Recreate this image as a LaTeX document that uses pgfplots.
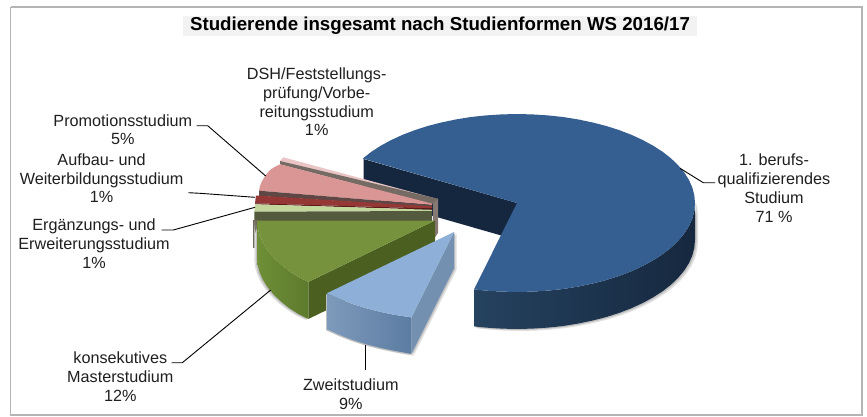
\documentclass[border=0pt]{standalone}
\usepackage{fontspec}
\setmainfont{Liberation Sans}
\usepackage{pgfplots}
\usepackage{pgfplotstable}
\pgfplotsset{compat=1.18}
\tikzset{lab/.style={font=\fontsize{16.2}{18.8}\selectfont, align=center, inner sep=0pt, text=black!88}}
\definecolor{frameC}{HTML}{B4B4B4}
\definecolor{bandC}{HTML}{F2F2F2}
\definecolor{blueTopC}{HTML}{365F91}
\definecolor{blueWallC}{HTML}{15263F}
\definecolor{blueSideL}{HTML}{25425F}
\definecolor{blueSideM}{HTML}{16283F}
\definecolor{ltTopC}{HTML}{8EB0D8}
\definecolor{ltWallC}{HTML}{7490B0}
\definecolor{ltSideL}{HTML}{7E9ABB}
\definecolor{ltSideR}{HTML}{5C7CA2}
\definecolor{grTopC}{HTML}{76923C}
\definecolor{grWallC}{HTML}{4B5F20}
\definecolor{grSideL}{HTML}{6E8E37}
\definecolor{grSideR}{HTML}{5E7B2D}
\definecolor{pinkC}{HTML}{D99694}
\definecolor{pinkWallC}{HTML}{5F4745}
\definecolor{dshC}{HTML}{E9C6C5}
\definecolor{dshWallC}{HTML}{756A64}
\definecolor{redC}{HTML}{953735}
\definecolor{redWallC}{HTML}{5E1A18}
\definecolor{lgC}{HTML}{C3D69B}
\definecolor{lgWallC}{HTML}{535A3E}
\definecolor{stripC}{HTML}{867873}
\definecolor{stripLC}{HTML}{6E6A5A}
\pgfplotstableread{
x y
362.8 158.5
371.2 151.9
380.6 145.8
391.1 140.1
402.6 134.8
414.9 130.1
428 125.9
441.7 122.4
456.1 119.4
470.9 117
486.1 115.4
501.5 114.4
517 114
532.5 114.4
547.9 115.4
563.1 117
577.9 119.4
592.3 122.4
606 125.9
619.2 130.1
631.4 134.8
642.9 140.1
653.3 145.8
662.8 151.9
671.2 158.5
678.3 165.4
684.3 172.6
689 180
692.3 187.5
694.3 195.3
695 203
694.3 210.8
692.3 218.5
689 226
684.3 233.4
678.3 240.6
671.2 247.5
662.8 254.1
653.3 260.2
642.9 265.9
631.4 271.2
619.2 275.9
606 280.1
592.3 283.6
577.9 286.6
563.1 289
547.9 290.6
532.5 291.6
517 292
501.5 291.6
486.1 290.6
474 289.4
517 203
}\blueTop
\pgfplotstableread{
x y
474 289.4
486.1 290.6
501.5 291.6
517 292
532.5 291.6
547.9 290.6
563.1 289
577.9 286.6
592.3 283.6
606 280.1
619.2 275.9
631.4 271.2
642.9 265.9
653.3 260.2
662.8 254.1
671.2 247.5
678.3 240.6
684.3 233.4
689 226
692.3 218.5
694.3 210.8
695 203
695 240
694.3 247.8
692.3 255.5
689 263
684.3 270.4
678.3 277.6
671.2 284.5
662.8 291.1
653.3 297.2
642.9 302.9
631.4 308.2
619.2 312.9
606 317.1
592.3 320.6
577.9 323.6
563.1 326
547.9 327.6
532.5 328.6
517 329
501.5 328.6
486.1 327.6
474 326.4
}\blueSide
\pgfplotstableread{
x y
454 232
411.4 317.4
393.8 314.7
379.6 311.7
366 308.2
353 304.1
340.9 299.4
327 293.2
}\ltTop
\pgfplotstableread{
x y
411.4 317.4
393.8 314.7
379.6 311.7
366 308.2
353 304.1
340.9 299.4
327 293.2
327 329.2
340.9 335.4
353 340.1
366 344.2
379.6 347.7
393.8 350.7
411.4 353.9
}\ltSide
\pgfplotstableread{
x y
454 232
454 268.3
411.4 353.9
411.4 317.4
}\ltWall
\pgfplotstableread{
x y
435 220.5
257.3 220.5
257.7 227.8
259.7 235.5
263.1 243.1
267.7 250.4
273.7 257.6
280.9 264.5
289.2 271.1
298.7 277.2
308.3 282
}\grTop
\pgfplotstableread{
x y
257.3 220.5
257.7 227.8
259.7 235.5
263.1 243.1
267.7 250.4
273.7 257.6
280.9 264.5
289.2 271.1
298.7 277.2
308.3 282
308.3 319
298.7 314.2
289.2 308.1
280.9 301.5
273.7 294.6
267.7 287.4
263.1 280.1
259.7 272.5
257.7 264.8
257.3 257.5
}\grSide
\pgfplotstableread{
x y
435 220.5
308.3 282
308.3 319
435 257.5
}\grWall
\begin{document}
\begin{tikzpicture}
\begin{axis}[
  scale only axis, width=867pt, height=416pt,
  xmin=0, xmax=867, ymin=0, ymax=416, y dir=reverse,
  hide axis, clip=false
]
% page and frame
\addplot[draw=none, fill=white] coordinates {(0,0) (867,0) (867,416) (0,416)};
\addplot[draw=frameC, line width=1.3pt] coordinates {(10.5,7) (862,7) (862,415) (10.5,415) (10.5,7)};
\addplot[draw=none, fill=bandC] coordinates {(183,16) (697,16) (697,36) (183,36)};
% 1. berufsqualifizierendes Studium
\addplot[draw=none, fill=black!12, xshift=3pt, yshift=-2pt] table {\blueSide};
\addplot[draw=none, fill=black!25, xshift=1.5pt, yshift=-1pt] table {\blueSide};
\addplot[draw=none, fill=blueWallC] coordinates {(363.5,159) (363.5,196) (517,240) (517,203)};
\addplot[draw=none, left color=blueSideL, middle color=blueSideM, right color=blueSideM] table {\blueSide};
\addplot[draw=none, fill=blueTopC] table {\blueTop};
% right-hand strip of the small wedges
\addplot[draw=none, fill=stripC] coordinates {(433,201) (438,198.5) (438,233) (433,240)};
% DSH
\addplot[draw=none, fill=dshC] coordinates {(283.3,157.3) (280,161) (433,201) (437.5,199)};
\addplot[draw=none, fill=dshWallC] coordinates {(280,161) (280,164.3) (432,204) (438,198.8)};
% Promotionsstudium
\addplot[draw=none, fill=pinkC] coordinates {(280,164.3) (274.5,167) (270,170) (265.5,175.3) (261.7,181.7) (260,186) (259,190.7) (432,205) (432,203.6)};
\addplot[draw=none, fill=pinkWallC] coordinates {(259,190.7) (259,196) (432,207) (432,205)};
% Aufbau
\addplot[draw=none, fill=redC] coordinates {(256,195.5) (255,203.3) (432,208.5) (432,206.5)};
\addplot[draw=none, fill=redWallC] coordinates {(255,203.3) (255,204.3) (432,209.8) (432,208.5)};
% Ergaenzung
\addplot[draw=none, fill=lgC] coordinates {(255,204.3) (254.3,211.7) (432,211) (432,209.8)};
\addplot[draw=none, fill=lgWallC] coordinates {(254.3,211.7) (254.3,220.8) (432,220.8) (432,211)};
\addplot[draw=none, fill=stripLC] coordinates {(252.7,220) (257.5,220) (257.5,248) (252.7,248)};
% konsekutives Masterstudium
\addplot[draw=none, fill=black!12, xshift=-3pt, yshift=-1pt] table {\grSide};
\addplot[draw=none, fill=black!25, xshift=-1.5pt, yshift=-0.5pt] table {\grSide};
\addplot[draw=none, fill=grWallC] table {\grWall};
\addplot[draw=none, left color=grSideL, right color=grSideR] table {\grSide};
\addplot[draw=none, fill=grTopC] table {\grTop};
% Zweitstudium
\addplot[draw=none, fill=black!12, xshift=2pt, yshift=-2pt] table {\ltSide};
\addplot[draw=none, fill=black!12, xshift=2.5pt, yshift=-1.5pt] table {\ltWall};
\addplot[draw=none, fill=black!25, xshift=1pt, yshift=-1pt] table {\ltWall};
\addplot[draw=none, fill=black!25, xshift=-1pt, yshift=-1pt] table {\ltSide};
\addplot[draw=none, fill=ltWallC] table {\ltWall};
\addplot[draw=none, left color=ltSideL, right color=ltSideR] table {\ltSide};
\addplot[draw=none, fill=ltTopC] table {\ltTop};
% leader lines
\addplot[black, line width=0.9pt] coordinates {(680,168.3) (703.3,182.7) (715,182.7)};
\addplot[black, line width=0.9pt] coordinates {(365,344.5) (365,370)};
\addplot[black, line width=0.9pt] coordinates {(171.7,362.7) (182.3,362.7) (270.7,290)};
\addplot[black, line width=0.9pt] coordinates {(161.7,230) (173.3,230) (255,207.3)};
\addplot[black, line width=0.9pt] coordinates {(188.3,192.7) (200,193.3) (255,197.3)};
\addplot[black, line width=0.9pt] coordinates {(196.7,125.7) (207.7,125.7) (265.7,176)};
% labels
\node[inner sep=0pt, font=\fontsize{18.7}{22}\selectfont\bfseries, text=black] at (axis cs:440,26) {Studierende insgesamt nach Studienformen WS 2016/17};
\node[lab] at (axis cs:316.7,101.8) {DSH/Feststellungs-\\prüfung/Vorbe-\\reitungsstudium\\1\%};
\node[lab] at (axis cs:122.8,129.8) {Promotionsstudium\\5\%};
\node[lab] at (axis cs:101.6,178.3) {Aufbau- und\\Weiterbildungsstudium\\1\%};
\node[lab] at (axis cs:94,243.8) {Ergänzungs- und\\Erweiterungsstudium\\1\%};
\node[lab] at (axis cs:120.3,376.6) {konsekutives\\Masterstudium\\12\%};
\node[lab] at (axis cs:350.8,394.2) {Zweitstudium\\9\%};
\node[lab] at (axis cs:774,188) {1. berufs-\\qualifizierendes\\Studium\\71 \%};
\end{axis}
\end{tikzpicture}
\end{document}
